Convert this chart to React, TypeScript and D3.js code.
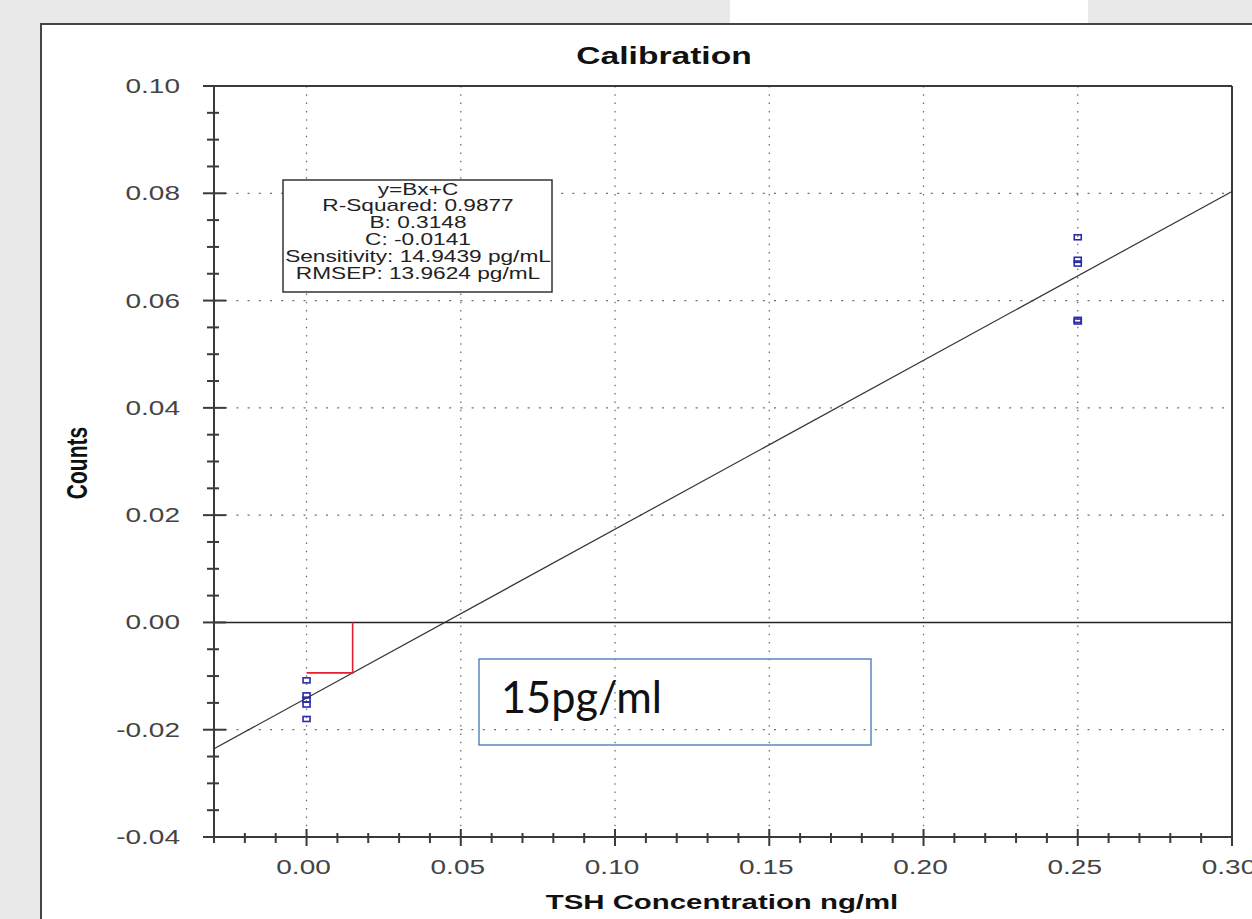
import React from 'react';
import * as d3 from 'd3';

// calibration samples (x = TSH ng/ml, y = counts)
const sampleX = [0, 0, 0, 0, 0, 0.25, 0.25, 0.25, 0.25, 0.25];
const sampleY = [-0.0108, -0.0136, -0.0144, -0.0153, -0.018, 0.0718, 0.0676, 0.0669, 0.0564, 0.0561];

// fit results
const slopeB = 0.3148;
const interceptC = -0.0141;
const sensitivity = 0.0149439; // ng/ml

const xMajor = [0, 0.05, 0.1, 0.15, 0.2, 0.25, 0.3];
const xLabels = ['0.00', '0.05', '0.10', '0.15', '0.20', '0.25', '0.30'];
const yMajor = [-0.04, -0.02, 0, 0.02, 0.04, 0.06, 0.08, 0.1];
const yLabels = ['-0.04', '-0.02', '0.00', '0.02', '0.04', '0.06', '0.08', '0.10'];

const statLines = [
  'y=Bx+C',
  'R-Squared: 0.9877',
  'B: 0.3148',
  'C: -0.0141',
  'Sensitivity: 14.9439 pg/mL',
  'RMSEP: 13.9624 pg/mL',
];

const FONT = '"Liberation Sans", Arial, sans-serif';
const SX = 1.4; // the whole screenshot is stretched sideways

const App = () => {
  const W = 1252;
  const H = 919;
  const left = 214, right = 1232, top = 86, bottom = 837;

  const x = d3.scaleLinear().domain([-0.03, 0.3]).range([left, right]);
  const y = d3.scaleLinear().domain([-0.04, 0.1]).range([bottom, top]);

  const xMinor = d3.range(-3, 31).map((i) => i / 100);
  const yMinor = d3.range(-8, 21).map((i) => i / 200);

  const fit = d3
    .line<number>()
    .x((d) => x(d))
    .y((d) => y(slopeB * d + interceptC));

  const sensY = slopeB * sensitivity + interceptC;
  const axisColor = '#3a3a3a';
  const gridColor = '#6f6f6f';

  return (
    <svg width={W} height={H} style={{ position: 'absolute', left: 0, top: 0 }}>
      {/* slide background */}
      <rect x={0} y={0} width={W} height={H} fill="#e9e9e9" />
      <rect x={730} y={0} width={358} height={24} fill="#ffffff" />
      <rect x={41} y={24} width={W} height={H} fill="#ffffff" stroke="#444" strokeWidth={2} />

      {/* grid */}
      {xMajor.filter((v) => v < 0.3).map((v) => (
        <line key={'gx' + v} x1={x(v)} x2={x(v)} y1={top} y2={bottom}
          stroke={gridColor} strokeWidth={1.3} strokeDasharray="1.5 6.8" />
      ))}
      {yMajor.filter((v) => v !== 0 && v > -0.04 && v < 0.1).map((v) => (
        <line key={'gy' + v} x1={left} x2={right} y1={y(v)} y2={y(v)}
          stroke={gridColor} strokeWidth={1.3} strokeDasharray="2 9.2" />
      ))}

      {/* zero line */}
      <line x1={left} x2={right} y1={y(0)} y2={y(0)} stroke="#222" strokeWidth={1.5} />

      {/* frame */}
      <line x1={203} x2={right} y1={top} y2={top} stroke={axisColor} strokeWidth={2} />
      <line x1={right} x2={right} y1={top} y2={bottom} stroke={axisColor} strokeWidth={2} />
      <line x1={left} x2={left} y1={top} y2={bottom} stroke={axisColor} strokeWidth={2} />
      <line x1={203} x2={right} y1={bottom} y2={bottom} stroke={axisColor} strokeWidth={2} />

      {/* y ticks */}
      {yMinor.map((v) => {
        const major = yMajor.some((m) => Math.abs(m - v) < 1e-9);
        return (
          <line key={'ty' + v} x1={major ? 203 : 207} x2={major ? 226 : 219}
            y1={y(v)} y2={y(v)} stroke={axisColor} strokeWidth={2} />
        );
      })}
      {/* x ticks */}
      {xMinor.map((v) => {
        const major = xMajor.some((m) => Math.abs(m - v) < 1e-9);
        return (
          <line key={'tx' + v} x1={x(v)} x2={x(v)}
            y1={major ? 829 : 833} y2={major ? 846 : 843} stroke={axisColor} strokeWidth={2} />
        );
      })}

      {/* tick labels */}
      {yMajor.map((v, i) => (
        <text key={'ly' + v} transform={`translate(180,${y(v)}) scale(${SX},1)`}
          textAnchor="end" dominantBaseline="central" fontFamily={FONT} fontSize={20} fill="#444">
          {yLabels[i]}
        </text>
      ))}
      {xMajor.map((v, i) => (
        <text key={'lx' + v} transform={`translate(${x(v) - 3},874) scale(${SX},1)`}
          textAnchor="middle" fontFamily={FONT} fontSize={20} fill="#444">
          {xLabels[i]}
        </text>
      ))}

      {/* titles */}
      <text transform={`translate(664,64) scale(${SX},1)`} textAnchor="middle"
        fontFamily={FONT} fontWeight="bold" fontSize={24} fill="#111">Calibration</text>
      <text transform={`translate(722,909) scale(${SX},1)`} textAnchor="middle"
        fontFamily={FONT} fontWeight="bold" fontSize={21} fill="#111">TSH Concentration ng/ml</text>
      <text transform={`translate(87,463) scale(${SX},1) rotate(-90)`} textAnchor="middle"
        fontFamily={FONT} fontWeight="bold" fontSize={21} fill="#111">Counts</text>

      {/* regression line */}
      <path d={fit([-0.03, 0.3]) || ''} fill="none" stroke="#333" strokeWidth={1.2} />

      {/* sensitivity marker */}
      <polyline
        points={`${x(0)},${y(sensY)} ${x(sensitivity)},${y(sensY)} ${x(sensitivity)},${y(0)}`}
        fill="none" stroke="#e8202a" strokeWidth={1.6} />

      {/* samples */}
      {sampleX.map((v, i) => (
        <rect key={'p' + i} x={x(v) - 3.5} y={y(sampleY[i]) - 2.5} width={7} height={5}
          fill="none" stroke="#2a2aa8" strokeWidth={1.6} />
      ))}

      {/* stats box */}
      <rect x={283} y={180} width={269} height={112} fill="#fff" stroke="#333" strokeWidth={1.5} />
      {statLines.map((s, i) => (
        <text key={'s' + i} transform={`translate(418,${194.5 + i * 16.9}) scale(${SX},1)`}
          textAnchor="middle" fontFamily={FONT} fontSize={16.2} fill="#222">{s}</text>
      ))}

      {/* annotation */}
      <rect x={479} y={659} width={392} height={86} fill="none" stroke="#5b86c2" strokeWidth={1.5} />
      <text x={501} y={713} fontFamily="Lato, 'Open Sans', sans-serif" fontSize={45}
        textLength={161} lengthAdjust="spacingAndGlyphs" fill="#111">15pg/ml</text>
    </svg>
  );
};

export default App;
